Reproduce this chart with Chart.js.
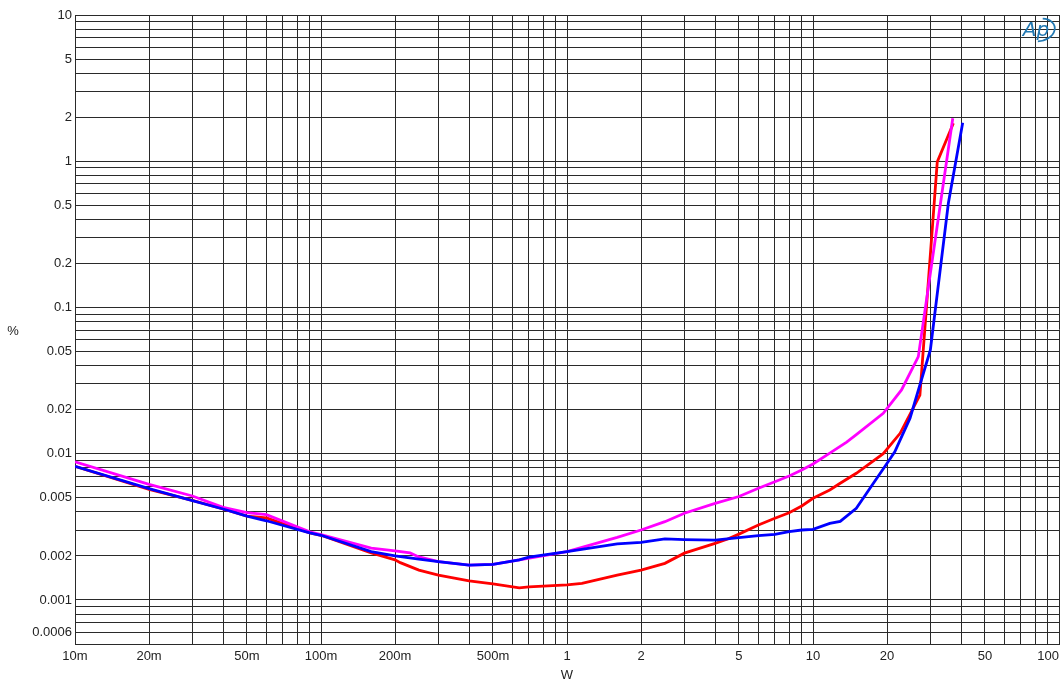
<!DOCTYPE html>
<html>
<head>
<meta charset="utf-8">
<script src="https://cdn.jsdelivr.net/npm/chart.js@4.4.1/dist/chart.umd.min.js"></script>
<style>
  html, body { margin: 0; padding: 0; background: #fff; }
  #wrap { width: 1064px; height: 681px; }
</style>
</head>
<body>
<div id="wrap"><canvas id="thdChart"></canvas></div>
<script>
// THD+N (%) vs output power (W)
const redW = [0.01, 0.02, 0.03, 0.04, 0.05, 0.06, 0.09, 0.1, 0.16, 0.2, 0.21, 0.25, 0.3, 0.4, 0.5, 0.64, 0.7, 1, 1.15, 1.6, 2, 2.5, 3, 4, 4.5, 5, 6, 7, 8, 9, 10, 11.7, 12.9, 15, 19.3, 22.6, 27.2, 32, 37.2];
const redPct = [0.0082, 0.0057, 0.0048, 0.00419, 0.00375, 0.00364, 0.00288, 0.00277, 0.0021, 0.00188, 0.0018, 0.0016, 0.00148, 0.00135, 0.00129, 0.00121, 0.00123, 0.00127, 0.0013, 0.00148, 0.0016, 0.00178, 0.00209, 0.00244, 0.00261, 0.00282, 0.00326, 0.00362, 0.00395, 0.00439, 0.00496, 0.00565, 0.00628, 0.00735, 0.0100, 0.0138, 0.0252, 0.99, 1.82];

const magW = [0.01, 0.02, 0.03, 0.04, 0.05, 0.06, 0.09, 0.1, 0.16, 0.2, 0.23, 0.25, 0.3, 0.4, 0.5, 0.64, 1, 1.6, 2, 2.5, 3, 4, 5, 6, 7, 8, 9, 10, 11.7, 13.7, 15, 19.3, 22.9, 26.8, 37];
const magPct = [0.0088, 0.00618, 0.00514, 0.0043, 0.00395, 0.00383, 0.00292, 0.0028, 0.00226, 0.00217, 0.0021, 0.00197, 0.00183, 0.00173, 0.00175, 0.00188, 0.00214, 0.00268, 0.00301, 0.00343, 0.00392, 0.00458, 0.0051, 0.0058, 0.00644, 0.00705, 0.00774, 0.00851, 0.0101, 0.012, 0.0135, 0.0189, 0.0273, 0.0461, 1.97];

const blueW = [0.01, 0.02, 0.03, 0.04, 0.05, 0.06, 0.09, 0.1, 0.16, 0.2, 0.25, 0.3, 0.4, 0.5, 0.64, 0.7, 1, 1.6, 2, 2.5, 3, 4, 5, 6, 7, 8, 9, 10, 11.7, 12.9, 15, 17.6, 20.2, 21.5, 24.8, 27.2, 30, 35.5, 40.6];
const bluePct = [0.0082, 0.00577, 0.00478, 0.00419, 0.00375, 0.00348, 0.00288, 0.00277, 0.00214, 0.002, 0.0019, 0.00183, 0.00173, 0.00175, 0.00188, 0.00196, 0.00214, 0.00242, 0.00248, 0.00262, 0.00259, 0.00257, 0.00267, 0.00275, 0.00281, 0.00293, 0.00301, 0.00304, 0.00334, 0.00345, 0.00424, 0.00628, 0.00882, 0.0103, 0.0175, 0.0295, 0.0512, 0.516, 1.835];

const xLabelValues = [0.01, 0.02, 0.05, 0.1, 0.2, 0.5, 1, 2, 5, 10, 20, 50, 100];
const xLabels = ['10m', '20m', '50m', '100m', '200m', '500m', '1', '2', '5', '10', '20', '50', '100      '];
const yLabelValues = [10, 5, 2, 1, 0.5, 0.2, 0.1, 0.05, 0.02, 0.01, 0.005, 0.002, 0.001, 0.0006];
const yLabels = ['10', '5', '2', '1', '0.5', '0.2', '0.1', '0.05', '0.02', '0.01', '0.005', '0.002', '0.001', '0.0006'];

// every 1..9 step per decade gets a grid line
function decadeGrid(lo, hi) {
  const out = [];
  for (let d = lo; d < hi; d++) {
    for (let k = 1; k < 10; k++) out.push(k * Math.pow(10, d));
  }
  out.push(Math.pow(10, hi));
  return out;
}

function labelFor(v, vals, labels) {
  const i = vals.findIndex(l => Math.abs(v / l - 1) < 1e-6);
  return i >= 0 ? labels[i] : '';
}

const toPts = (xs, ys) => xs.map((x, i) => ({x: x, y: ys[i]}));

const font = {family: '"Liberation Sans", Arial, sans-serif', size: 13};

const extras = {
  id: 'extras',
  afterDraw(chart) {
    const ctx = chart.ctx;
    const area = chart.chartArea;
    ctx.save();
    ctx.fillStyle = '#222';
    ctx.font = '13px "Liberation Sans", Arial, sans-serif';
    ctx.textAlign = 'center';
    ctx.textBaseline = 'middle';
    ctx.fillText('%', 13, 331);
    ctx.fillText('W', (area.left + area.right) / 2, 675);

    // AP logo, top right
    ctx.fillStyle = '#2279b3';
    ctx.strokeStyle = '#2279b3';
    ctx.font = 'italic 20px "DejaVu Sans", sans-serif';
    ctx.fillText('Ap', 1036, 31);
    ctx.lineWidth = 1.8;
    ctx.beginPath();
    ctx.ellipse(1040, 30, 15, 11, -0.25, -1.2, 1.9);
    ctx.stroke();
    ctx.restore();
  }
};

new Chart(document.getElementById('thdChart'), {
  type: 'line',
  data: {
    datasets: [
      {data: toPts(blueW, bluePct), borderColor: '#0000ff', borderWidth: 2.8},
      {data: toPts(magW, magPct), borderColor: '#ff00ff', borderWidth: 2.8},
      {data: toPts(redW, redPct), borderColor: '#ff0000', borderWidth: 2.8}
    ]
  },
  options: {
    responsive: true,
    maintainAspectRatio: false,
    animation: false,
    layout: {padding: {top: 15, right: 5, left: 0, bottom: 0}},
    elements: {
      point: {radius: 0},
      line: {tension: 0, fill: false}
    },
    plugins: {
      legend: {display: false},
      tooltip: {enabled: false}
    },
    scales: {
      x: {
        type: 'logarithmic',
        min: 0.01,
        max: 100,
        afterBuildTicks: s => { s.ticks = decadeGrid(-2, 2).map(v => ({value: v})); },
        afterFit: s => { s.height = 37; s.paddingLeft = 0; s.paddingRight = 0; },
        grid: {color: '#2a2a2a', lineWidth: 1, drawTicks: false},
        border: {display: true, color: '#2a2a2a'},
        ticks: {
          autoSkip: false,
          maxRotation: 0,
          padding: 5,
          color: '#222',
          font: font,
          callback: v => labelFor(v, xLabelValues, xLabels)
        }
      },
      y: {
        type: 'logarithmic',
        min: 0.0005,
        max: 10,
        afterBuildTicks: s => {
          s.ticks = decadeGrid(-4, 1).filter(v => v > 0.00049).map(v => ({value: v}));
        },
        afterFit: s => { s.width = 75; s.paddingTop = 0; s.paddingBottom = 0; },
        grid: {color: '#2a2a2a', lineWidth: 1, drawTicks: false},
        border: {display: true, color: '#2a2a2a'},
        ticks: {
          autoSkip: false,
          padding: 3,
          color: '#222',
          font: font,
          callback: v => labelFor(v, yLabelValues, yLabels)
        }
      }
    }
  },
  plugins: [extras]
});
</script>
</body>
</html>
